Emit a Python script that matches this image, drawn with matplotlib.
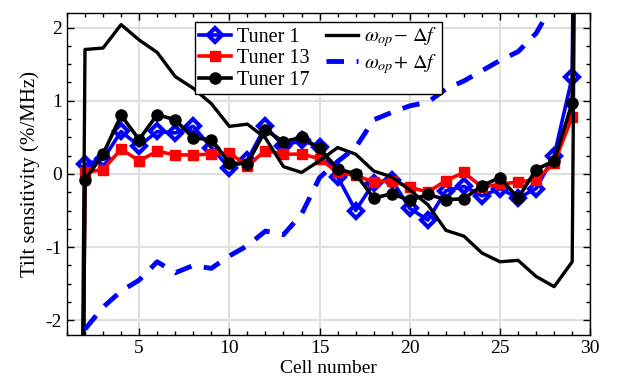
import numpy as np
import matplotlib
matplotlib.use('Agg')
import matplotlib.pyplot as plt
from matplotlib.ticker import MultipleLocator

plt.rcParams['font.family'] = ['Liberation Serif', 'DejaVu Serif']
plt.rcParams['mathtext.fontset'] = 'stix'
plt.rcParams['axes.unicode_minus'] = False

# cell index; cells 1 and 30 are the end cells, far outside the plotted range
cells = np.arange(1, 31)
tuner1 = [-28, 0.13, 0.20, 0.58, 0.38, 0.58, 0.56, 0.65, 0.36, 0.08,
          0.19, 0.65, 0.38, 0.46, 0.37, -0.04, -0.50, -0.12, -0.08, -0.47,
          -0.63, -0.23, -0.17, -0.30, -0.20, -0.33, -0.20, 0.25, 1.32, 28]
tuner13 = [-28, 0.02, 0.06, 0.34, 0.18, 0.31, 0.26, 0.26, 0.27, 0.29,
           0.11, 0.32, 0.27, 0.27, 0.21, 0.02, -0.02, -0.11, -0.09, -0.18,
           -0.25, -0.09, 0.02, -0.18, -0.14, -0.11, -0.08, 0.15, 0.78, 25]
tuner17 = [-28, -0.08, 0.27, 0.80, 0.47, 0.81, 0.74, 0.49, 0.47, 0.15,
           0.14, 0.60, 0.44, 0.50, 0.35, 0.07, 0.00, -0.33, -0.27, -0.36,
           -0.28, -0.35, -0.34, -0.16, -0.05, -0.33, 0.06, 0.18, 0.97, 25]
op_minus = [-30, 1.70, 1.72, 2.04, 1.83, 1.66, 1.33, 1.17, 0.96, 0.65,
            0.68, 0.49, 0.10, 0.02, 0.18, 0.36, 0.27, 0.04, -0.04, -0.22,
            -0.42, -0.77, -0.85, -1.08, -1.20, -1.18, -1.40, -1.54, -1.20, 30]
# omega_op + df only over cells 2..29
cells_plus = np.arange(2, 30)
op_plus = [-2.12, -1.82, -1.60, -1.45, -1.20, -1.35, -1.25, -1.29, -1.12, -0.98,
           -0.78, -0.83, -0.55, -0.05, 0.17, 0.36, 0.74, 0.84, 0.93, 0.98,
           1.16, 1.27, 1.41, 1.55, 1.67, 1.92, 2.35, 2.90]

fig = plt.figure(figsize=(6.2, 3.9), dpi=100)
ax = fig.add_axes([0.108, 0.141, 0.844, 0.826])

ax.plot(cells, tuner1, color='blue', lw=2.6, marker='D', ms=7.5,
        mfc='none', mec='blue', mew=3.0, label='Tuner 1')
ax.plot(cells, tuner13, color='red', lw=2.6, marker='s', ms=7,
        mfc='red', mec='red', label='Tuner 13')
ax.plot(cells, tuner17, color='black', lw=2.6, marker='o', ms=8,
        mfc='black', mec='black', label='Tuner 17')
ax.plot(cells, op_minus, color='black', lw=2.4,
        label=r'$\omega_{op}\!-\,\Delta f$')
ax.plot(cells_plus, op_plus, color='blue', lw=3.5, linestyle=(0, (3.6, 2.6)),
        label=r'$\omega_{op}\!+\,\Delta f$')

ax.set_xlim(1, 30)
ax.set_ylim(-2.2, 2.2)
ax.xaxis.set_major_locator(MultipleLocator(5))
ax.xaxis.set_minor_locator(MultipleLocator(1))
ax.yaxis.set_major_locator(MultipleLocator(1))
ax.yaxis.set_minor_locator(MultipleLocator(0.25))
ax.tick_params(which='both', direction='in', top=True, right=True,
               labelsize=14, width=1)
ax.tick_params(which='major', length=5)
ax.tick_params(which='minor', length=3)
ax.grid(True, which='major', color='#e0e0e0', lw=1.5)
ax.set_axisbelow(True)
for s in ax.spines.values():
    s.set_linewidth(1.0)

ax.set_xlabel('Cell number', fontsize=14, labelpad=2)
ax.set_ylabel('Tilt sensitivity (%/MHz)', fontsize=15, labelpad=4)

leg = ax.legend(loc='upper left', bbox_to_anchor=(0.245, 0.973), ncol=2,
                fontsize=14.5, frameon=True, fancybox=False, framealpha=1,
                edgecolor='black', handlelength=1.6, handletextpad=0.3,
                labelspacing=0.12, borderpad=0.2, columnspacing=0.8,
                borderaxespad=0)
leg.get_frame().set_linewidth(1.0)

fig.savefig('out.png', dpi=100)
